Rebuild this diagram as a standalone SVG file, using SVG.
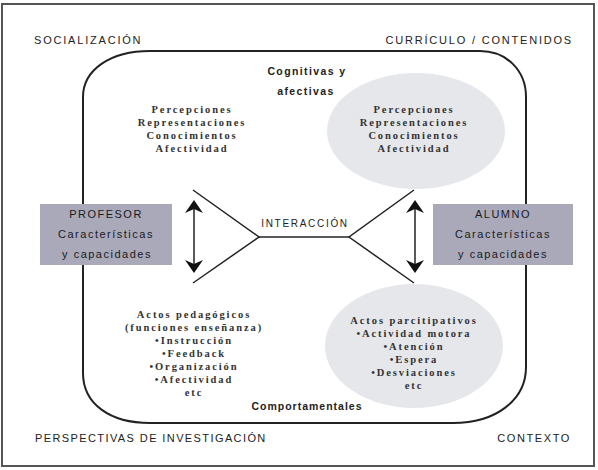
<svg xmlns="http://www.w3.org/2000/svg" width="598" height="470" viewBox="0 0 598 470">
<style>
.cap{font-family:"Liberation Sans",Arial,sans-serif;font-size:11px;fill:#222;letter-spacing:1.8px}
.bold{font-family:"Liberation Sans",Arial,sans-serif;font-size:10.5px;font-weight:bold;fill:#222;letter-spacing:1.4px}
.box{fill:#a9a9ba;stroke:none}
.boxt{font-family:"Liberation Sans",Arial,sans-serif;font-size:11px;fill:#1a1a1a;letter-spacing:1.5px;text-anchor:middle}
.ser{font-family:"Liberation Serif","Times New Roman",serif;font-size:10.5px;font-weight:bold;fill:#333;letter-spacing:1.9px;text-anchor:middle}
.ell{fill:#e6e7eb}
.ln{stroke:#222;stroke-width:1.5;fill:none}
.ah{fill:#111}
</style>
<rect x="0" y="0" width="598" height="470" fill="#ffffff"/>
<g id="frame">
<rect x="2" y="4" width="592" height="462" fill="#ffffff" stroke="#555" stroke-width="2"/>
</g>
<g id="outer-labels">
<text class="cap" x="34" y="44">SOCIALIZACIÓN</text>
<text class="cap" x="573" y="44" text-anchor="end">CURRÍCULO / CONTENIDOS</text>
<text class="cap" x="35" y="442" style="letter-spacing:1.4px">PERSPECTIVAS DE INVESTIGACIÓN</text>
<text class="cap" x="571" y="442" text-anchor="end" style="letter-spacing:1.6px">CONTEXTO</text>
</g>
<g id="aula">
<path class="ln" style="stroke-width:2" d="M150,51 L480,51 C506,51 526,70 526,97 L526,367 C526,400 496,423 453,423 L150,423 C110,423 83,404 83,373 L83,97 C83,70 110,51 150,51 Z"/>
</g>
<g id="cognitivas">
<text class="bold" x="307" y="75" text-anchor="middle">Cognitivas y</text>
<text class="bold" x="306" y="95" text-anchor="middle">afectivas</text>
</g>
<g id="profesor-cognitivo">
<text class="ser" x="192" y="113">Percepciones</text>
<text class="ser" x="192" y="126">Representaciones</text>
<text class="ser" x="192" y="139">Conocimientos</text>
<text class="ser" x="192" y="152">Afectividad</text>
</g>
<g id="alumno-cognitivo">
<ellipse class="ell" cx="416" cy="131" rx="89" ry="58"/>
<text class="ser" x="414" y="113">Percepciones</text>
<text class="ser" x="414" y="126">Representaciones</text>
<text class="ser" x="414" y="139">Conocimientos</text>
<text class="ser" x="414" y="152">Afectividad</text>
</g>
<g id="profesor">
<rect class="box" x="40" y="204" width="132" height="61"/>
<text class="boxt" x="106" y="218">PROFESOR</text>
<text class="boxt" x="106" y="238">Características</text>
<text class="boxt" x="107" y="258">y capacidades</text>
</g>
<g id="alumno">
<rect class="box" x="433" y="204" width="140" height="61"/>
<text class="boxt" x="503" y="218">ALUMNO</text>
<text class="boxt" x="503" y="238">Características</text>
<text class="boxt" x="503" y="258">y capacidades</text>
</g>
<g id="interaccion">
<text class="cap" x="305" y="227" text-anchor="middle" style="font-size:10px;letter-spacing:1.7px">INTERACCIÓN</text>
</g>
<g id="connectors">
<polyline class="ln" points="193,190 259,237 193,283"/>
<line class="ln" x1="259" y1="237" x2="349" y2="237"/>
<polyline class="ln" points="414,190 349,237 414,283"/>
<line class="ln" x1="194" y1="204" x2="194" y2="269"/>
<path class="ah" d="M194,200 L203,213 L194,209 L185,213 Z"/>
<path class="ah" d="M194,273 L203,260 L194,264 L185,260 Z"/>
<line class="ln" x1="415" y1="204" x2="415" y2="269"/>
<path class="ah" d="M415,200 L424,213 L415,209 L406,213 Z"/>
<path class="ah" d="M415,273 L424,260 L415,264 L406,260 Z"/>
</g>
<g id="profesor-comportamental">
<text class="ser" x="194" y="318">Actos pedagógicos</text>
<text class="ser" x="194" y="331">(funciones enseñanza)</text>
<text class="ser" x="194" y="344">•Instrucción</text>
<text class="ser" x="194" y="357">•Feedback</text>
<text class="ser" x="194" y="370">•Organización</text>
<text class="ser" x="194" y="383">•Afectividad</text>
<text class="ser" x="194" y="396">etc</text>
</g>
<g id="alumno-comportamental">
<ellipse class="ell" cx="414" cy="346" rx="89" ry="62"/>
<text class="ser" x="414" y="324">Actos parcitipativos</text>
<text class="ser" x="414" y="337">•Actividad motora</text>
<text class="ser" x="414" y="350">•Atención</text>
<text class="ser" x="414" y="363">•Espera</text>
<text class="ser" x="414" y="376">•Desviaciones</text>
<text class="ser" x="414" y="389">etc</text>
</g>
<g id="comportamentales">
<text class="bold" x="307" y="410" text-anchor="middle" style="letter-spacing:1px">Comportamentales</text>
</g>
</svg>
